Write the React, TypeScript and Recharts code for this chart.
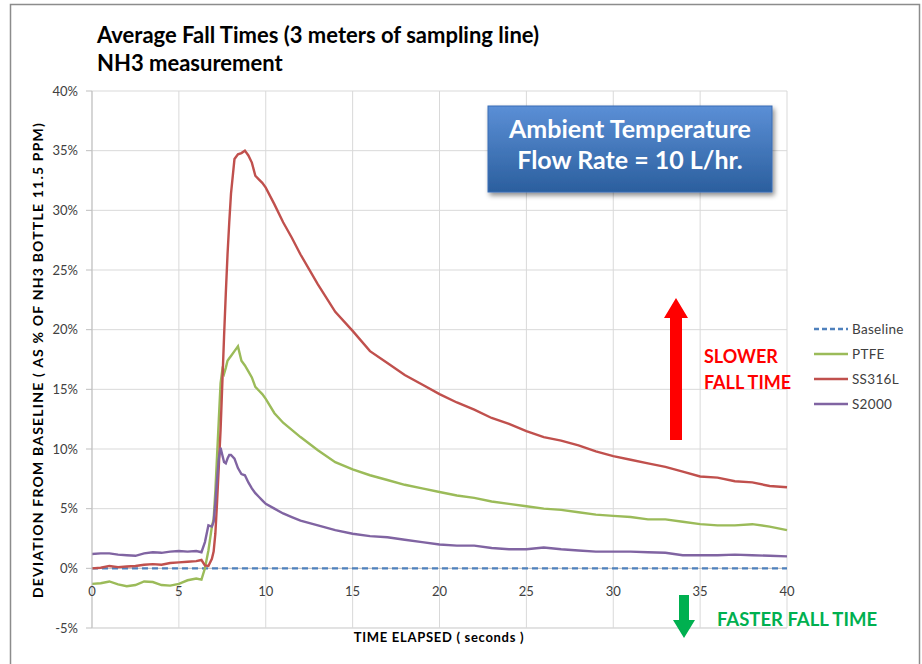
import { LineChart, Line, XAxis, YAxis, CartesianGrid, ReferenceLine } from 'recharts'

// time in seconds
const TIMES = [
  0, 0.5, 1, 1.5, 2, 2.5, 3, 3.5, 4, 4.5, 5, 5.5, 6, 6.3, 6.5, 6.7, 6.9,
  7.0, 7.1, 7.2, 7.3, 7.4, 7.5, 7.6, 7.7, 7.8, 7.9, 8.0,
  8.2, 8.4, 8.6, 8.8, 9.0, 9.2, 9.4, 9.6, 9.8, 10,
  10.5, 11, 11.5, 12,
  13, 14, 15, 16, 17, 18, 19, 20, 21, 22, 23, 24, 25, 26, 27, 28, 29, 30,
  31, 32, 33, 34, 35, 36, 37, 38, 39, 40,
]

// deviation in % of bottle concentration
const PTFE = [
  -1.3, -1.25, -1.1, -1.35, -1.5, -1.4, -1.1, -1.15, -1.4, -1.45, -1.3, -1.0, -0.85, -0.95, 0.0, 1.5, 3.5,
  4.1, 6.5, 9.5, 12.5, 15.5, 16.6, 16.3, 16.8, 17.4, 17.6, 17.8,
  18.2, 18.6, 17.4, 17.0, 16.5, 16.0, 15.2, 14.9, 14.6, 14.2,
  13.0, 12.2, 11.6, 11.0,
  9.9, 8.9, 8.3, 7.8, 7.4, 7.0, 6.7, 6.4, 6.1, 5.9, 5.6, 5.4, 5.2, 5.0, 4.9, 4.7, 4.5, 4.4,
  4.3, 4.1, 4.1, 3.9, 3.7, 3.6, 3.6, 3.7, 3.5, 3.2,
]

const SS316L = [
  0.0, 0.05, 0.2, 0.1, 0.15, 0.2, 0.3, 0.35, 0.3, 0.45, 0.5, 0.55, 0.6, 0.7, 0.25, 0.2, 0.8,
  1.4, 2.9, 5.6, 8.6, 11.6, 15.5, 19.4, 23.0, 26.3, 29.0, 31.4,
  34.3, 34.7, 34.8, 35.0, 34.6, 34.0, 32.9, 32.6, 32.3, 31.9,
  30.5, 29.0, 27.7, 26.3,
  23.8, 21.5, 19.9, 18.2, 17.2, 16.2, 15.4, 14.6, 13.9, 13.3, 12.6, 12.1, 11.5, 11.0, 10.7, 10.3, 9.8, 9.4,
  9.1, 8.8, 8.5, 8.1, 7.7, 7.6, 7.3, 7.2, 6.9, 6.8,
]

const S2000 = [
  1.2, 1.25, 1.25, 1.15, 1.1, 1.05, 1.25, 1.35, 1.3, 1.4, 1.45, 1.4, 1.45, 1.35, 2.2, 3.6, 3.5,
  3.9, 5.5, 7.5, 9.2, 10.1, 9.5, 8.9, 8.8, 9.2, 9.5, 9.5,
  9.2, 8.4, 7.9, 7.8, 7.2, 6.7, 6.3, 6.0, 5.7, 5.4,
  5.0, 4.6, 4.3, 4.0,
  3.6, 3.2, 2.9, 2.7, 2.6, 2.4, 2.2, 2.0, 1.9, 1.9, 1.7, 1.6, 1.6, 1.75, 1.6, 1.5, 1.4, 1.4,
  1.4, 1.35, 1.3, 1.1, 1.1, 1.1, 1.15, 1.1, 1.05, 1.0,
]

const BASELINE_T = [0, 40]
const BASELINE = [0, 0]

const X_TICKS = [0, 5, 10, 15, 20, 25, 30, 35, 40]
const Y_TICKS = [-5, 0, 5, 10, 15, 20, 25, 30, 35, 40]

const SERIES = [
  { key: 'baseline', label: 'Baseline', color: '#4f81bd', dash: '5 3' },
  { key: 'ptfe', label: 'PTFE', color: '#9bbb59' },
  { key: 'ss316l', label: 'SS316L', color: '#c0504d' },
  { key: 's2000', label: 'S2000', color: '#8064a2' },
]

const data = TIMES.map((t, i) => ({ t, ptfe: PTFE[i], ss316l: SS316L[i], s2000: S2000[i] }))
const baselineData = BASELINE_T.map((t, i) => ({ t, baseline: BASELINE[i] }))

const FONT = 'Lato, "Open Sans", sans-serif'

const XTick = (props: any) => (
  <text x={props.x} y={props.y - 40} textAnchor="middle" fontSize={13} fill="#404040" fontFamily={FONT}>
    {props.payload.value}
  </text>
)

export default function App() {
  return (
    <div style={{ position: 'absolute', left: 0, top: 0, width: 922, height: 664, background: 'white', overflow: 'hidden', fontFamily: FONT }}>
      <LineChart width={922} height={664} data={data} margin={{ top: 91, right: 135, left: 32, bottom: 6 }}>
        <CartesianGrid stroke="#d9d9d9" strokeWidth={1} />
        <XAxis
          dataKey="t"
          type="number"
          domain={[0, 40]}
          ticks={X_TICKS}
          height={30}
          axisLine={{ stroke: '#d9d9d9' }}
          tickLine={false}
          tick={<XTick />}
          allowDuplicatedCategory={false}
        />
        <YAxis
          type="number"
          domain={[-5, 40]}
          ticks={Y_TICKS}
          width={60}
          tickFormatter={(v) => `${v}%`}
          tick={{ fontSize: 13, fill: '#404040', fontFamily: FONT }}
          axisLine={{ stroke: '#bfbfbf' }}
          tickLine={{ stroke: '#bfbfbf' }}
          tickSize={6}
          tickMargin={8}
        />
        <ReferenceLine y={0} stroke="#bfbfbf" />
        <Line data={baselineData} dataKey="baseline" stroke="#4f81bd" strokeWidth={2.2} strokeDasharray="6 4" dot={false} isAnimationActive={false} />
        <Line dataKey="ptfe" stroke="#9bbb59" strokeWidth={2.4} dot={false} type="linear" isAnimationActive={false} />
        <Line dataKey="ss316l" stroke="#c0504d" strokeWidth={2.4} dot={false} type="linear" isAnimationActive={false} />
        <Line dataKey="s2000" stroke="#8064a2" strokeWidth={2.4} dot={false} type="linear" isAnimationActive={false} />
      </LineChart>

      <svg width={922} height={664} style={{ position: 'absolute', left: 0, top: 0, pointerEvents: 'none' }}>
        <defs>
          <linearGradient id="boxFill" x1="0" y1="0" x2="0" y2="1">
            <stop offset="0%" stopColor="#5b8fd6" />
            <stop offset="100%" stopColor="#2b5f9e" />
          </linearGradient>
          <filter id="shadow" x="-10%" y="-10%" width="130%" height="140%">
            <feDropShadow dx="2" dy="3" stdDeviation="2.5" floodColor="#000" floodOpacity="0.45" />
          </filter>
        </defs>

        {/* frame */}
        <rect x={10.5} y={4.5} width={909} height={670} fill="none" stroke="#8c8c8c" strokeWidth={1.5} />

        {/* title */}
        <text x={97} y={43} fontSize={22} fontWeight={700} fill="#000">Average Fall Times (3 meters of sampling line)</text>
        <text x={97} y={71} fontSize={22} fontWeight={700} fill="#000">NH3 measurement</text>

        {/* axis titles */}
        <text x={439} y={642} textAnchor="middle" fontSize={13} letterSpacing={0.7} fontWeight={700} fill="#000">TIME ELAPSED ( seconds )</text>
        <text transform="translate(43, 360) rotate(-90)" textAnchor="middle" fontSize={14} letterSpacing={1.2} fontWeight={700} fill="#000">
          DEVIATION FROM BASELINE ( AS % OF NH3 BOTTLE 11.5 PPM)
        </text>

        {/* info box */}
        <rect x={488} y={106} width={284} height={86} fill="url(#boxFill)" stroke="#3a6db5" strokeWidth={1} filter="url(#shadow)" />
        <text x={630} y={138} textAnchor="middle" fontSize={25} fontWeight={700} fill="#fff">Ambient Temperature</text>
        <text x={630} y={169} textAnchor="middle" fontSize={25} fontWeight={700} fill="#fff">Flow Rate = 10 L/hr.</text>

        {/* slower arrow */}
        <polygon points="670,440 682,440 682,318 688,318 676,298 664,318 670,318" fill="#ff0000" />
        <text x={704} y={363} fontSize={18} fontWeight={700} fill="#ff0000">SLOWER</text>
        <text x={704} y={389} fontSize={18} fontWeight={700} fill="#ff0000">FALL TIME</text>

        {/* faster arrow */}
        <polygon points="679,595 689,595 689,620 695,620 684,638 673,620 679,620" fill="#00b050" />
        <text x={717} y={626} fontSize={18.5} fontWeight={700} fill="#00b050">FASTER FALL TIME</text>

        {/* legend */}
        {SERIES.map((s, i) => (
          <g key={s.key}>
            <line x1={814} x2={848} y1={329 + i * 25} y2={329 + i * 25} stroke={s.color} strokeWidth={2.4} strokeDasharray={s.dash} />
            <text x={852} y={333.5 + i * 25} fontSize={13.5} letterSpacing={0.3} fill="#404040">{s.label}</text>
          </g>
        ))}
      </svg>
    </div>
  )
}
